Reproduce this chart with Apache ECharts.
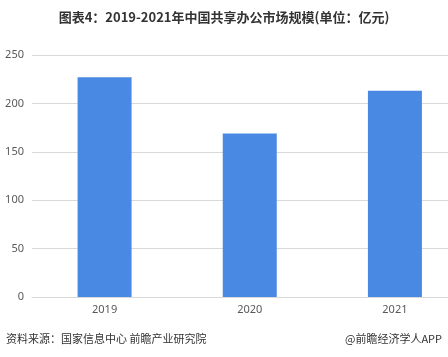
<!DOCTYPE html>
<html><head><meta charset="utf-8">
<script src="https://cdn.jsdelivr.net/npm/echarts@6/dist/echarts.min.js"></script>
<style>html,body{margin:0;padding:0;background:#fff}#c{width:448px;height:357px}</style>
</head><body><div id="c"></div>
<script>
const categories = ['2019', '2020', '2021'];
const marketSize = [227, 169, 213];
const yTicks = { min: 0, max: 250, interval: 50 };

const chart = echarts.init(document.getElementById('c'), null, { renderer: 'canvas' });
chart.setOption({
  animation: false,
  backgroundColor: '#fff',
  title: {
    text: '图表4：2019-2021年中国共享办公市场规模(单位：亿元)',
    left: 'center', top: 6,
    textStyle: { fontSize: 13, fontWeight: 'bold', color: '#333', fontFamily: 'Noto Sans CJK SC' }
  },
  graphic: [
    { type: 'text', left: 6, top: 333, style: { text: '资料来源：国家信息中心 前瞻产业研究院', fontSize: 11, fill: '#333', fontFamily: 'Noto Sans CJK SC' } },
    { type: 'text', right: 6, top: 333, style: { text: '@前瞻经济学人APP', fontSize: 11, fill: '#333', fontFamily: 'Noto Sans CJK SC' } }
  ],
  grid: { left: 32, width: 435.5, top: 55, height: 242, containLabel: false, outerBoundsMode: 'none' },
  xAxis: {
    type: 'category', data: categories,
    axisLine: { lineStyle: { color: '#d9d9d9' } },
    axisTick: { show: false },
    axisLabel: { color: '#595959', fontSize: 11, margin: 7, fontFamily: 'Noto Sans' }
  },
  yAxis: {
    type: 'value', min: yTicks.min, max: yTicks.max, interval: yTicks.interval,
    axisLine: { show: false }, axisTick: { show: false },
    axisLabel: { color: '#595959', fontSize: 11, margin: 8, fontFamily: 'Noto Sans' },
    splitLine: { lineStyle: { color: '#d9d9d9' } }
  },
  series: [{
    type: 'bar', data: marketSize, barWidth: 54,
    itemStyle: { color: '#4a89e3' }
  }]
});
</script></body></html>
